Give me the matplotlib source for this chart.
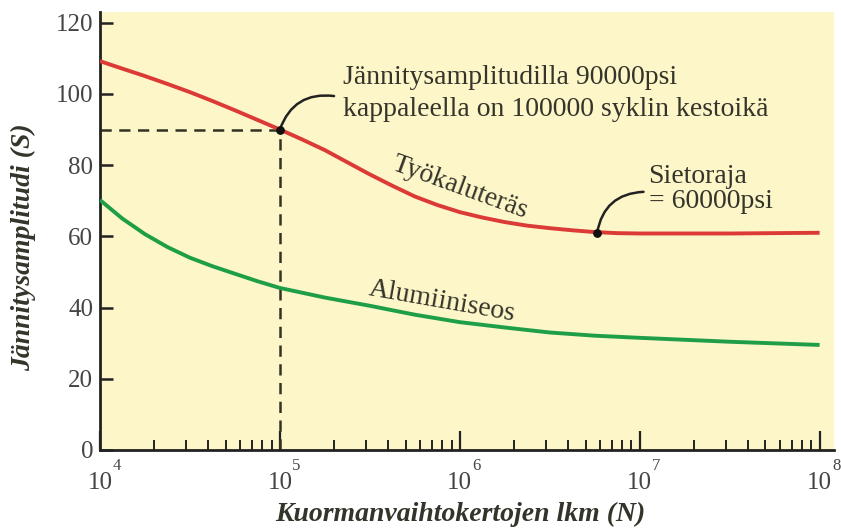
import matplotlib
matplotlib.use('Agg')
import matplotlib.pyplot as plt
from matplotlib.ticker import FixedLocator, LogLocator, NullFormatter, FixedFormatter

# ---- data ----
N_steel = [1e4, 1.33e4, 1.78e4, 2.37e4, 3.16e4, 4.22e4, 5.62e4, 7.5e4,
           1e5, 1.33e5, 1.78e5, 2.37e5, 3.16e5, 4.22e5, 5.62e5, 7.5e5,
           1e6, 1.33e6, 1.78e6, 2.37e6, 3.16e6, 4.22e6, 5.62e6, 7.5e6,
           1e7, 3.16e7, 1e8]
S_steel = [109.2, 107.1, 105.0, 102.8, 100.5, 98.0, 95.4, 92.7,
           90.0, 87.2, 84.2, 80.8, 77.4, 74.2, 71.2, 68.8,
           66.8, 65.3, 64.0, 63.0, 62.3, 61.7, 61.2, 60.9,
           60.8, 60.8, 61.0]

N_alu = [1e4, 1.33e4, 1.78e4, 2.37e4, 3.16e4, 4.22e4, 5.62e4, 7.5e4,
         1e5, 1.78e5, 3.16e5, 5.62e5, 1e6, 1.78e6, 3.16e6, 5.62e6,
         1e7, 3.16e7, 1e8]
S_alu = [70.2, 65.0, 60.6, 57.0, 54.0, 51.6, 49.5, 47.4,
         45.5, 42.8, 40.5, 38.0, 35.9, 34.4, 33.0, 32.1,
         31.5, 30.4, 29.5]

point_N = [1e5, 5.8e6]
point_S = [90, 61]

y_ticks = [0, 20, 40, 60, 80, 100, 120]
x_major = [1e4, 1e5, 1e6, 1e7, 1e8]
x_exponents = ['4', '5', '6', '7', '8']

serif = ['Liberation Serif', 'DejaVu Serif']
txt_col = '#34342a'
red = '#dc3a36'
green = '#1f9e48'
FS = 20

fig = plt.figure(figsize=(8.41, 5.32), dpi=100)
ax = fig.add_axes([100/841, 82/532, 734/841, 438/532])
ax.set_facecolor('#fcf6c8')

ax.plot(N_steel, S_steel, color=red, lw=2.8, solid_capstyle='butt', solid_joinstyle='round', zorder=3)
ax.plot(N_alu, S_alu, color=green, lw=2.8, solid_capstyle='butt', solid_joinstyle='round', zorder=3)

# dashed guides
ax.plot([1e4, point_N[0]], [point_S[0], point_S[0]], ls=(0, (4.5, 3)), color='#333322', lw=1.8, zorder=2)
ax.plot([point_N[0], point_N[0]], [0, point_S[0]], ls=(0, (4.5, 3)), color='#333322', lw=1.8, zorder=2)

ax.scatter(point_N, point_S, s=28, color='#111111', zorder=5)

ax.set_xscale('log')
ax.set_xlim(1e4, 10**8.08)
ax.set_ylim(0, 123)

for s in ['top', 'right']:
    ax.spines[s].set_visible(False)
for s in ['left', 'bottom']:
    ax.spines[s].set_linewidth(2.0)
    ax.spines[s].set_color('#222222')

ax.yaxis.set_major_locator(FixedLocator(y_ticks))
ax.tick_params(axis='y', direction='in', length=9, width=1.8, color='#222222',
               labelsize=18, labelcolor='#444444', pad=5)
for lab in ax.get_yticklabels():
    lab.set_fontfamily(serif)

ax.xaxis.set_major_locator(FixedLocator(x_major))
ax.xaxis.set_major_formatter(FixedFormatter(['10'] * len(x_major)))
ax.xaxis.set_minor_locator(LogLocator(base=10, subs=[2, 3, 4, 5, 6, 7, 8, 9], numticks=20))
ax.xaxis.set_minor_formatter(NullFormatter())
ax.tick_params(axis='x', which='major', direction='in', length=14, width=1.6, color='#222222',
               labelsize=18, labelcolor='#444444', pad=16)
ax.tick_params(axis='x', which='minor', direction='in', length=7, width=1.4, color='#222222')
for lab in ax.get_xticklabels():
    lab.set_fontfamily(serif)

xt = ax.get_xaxis_transform()
for xv, e in zip(x_major, x_exponents):
    ax.annotate(e, xy=(xv, 0), xycoords=xt, xytext=(12, -11.5), textcoords='offset points',
                fontsize=12, color='#444444', family=serif, ha='center', va='center',
                annotation_clip=False)

# axis labels
fig.text(460/841, 1 - 514/532, 'Kuormanvaihtokertojen lkm (N)', family=serif, fontsize=FS,
         style='italic', weight='bold', color=txt_col, ha='center', va='center')
fig.text(23/841, 1 - 247/532, 'Jännitysamplitudi (S)', family=serif, fontsize=FS,
         style='italic', weight='bold', color=txt_col, ha='center', va='center', rotation=90)

# annotations
ax.annotate('', xy=(point_N[0], point_S[0]), xytext=(2.0e5, 99.4),
            arrowprops=dict(arrowstyle='-', connectionstyle='arc3,rad=0.4', lw=1.8, color='#222222',
                            shrinkA=0, shrinkB=0))
ax.text(2.24e5, 100.1, 'Jännitysamplitudilla 90000psi\nkappaleella on 100000 syklin kestoikä',
        family=serif, fontsize=FS, color=txt_col, ha='left', va='center', linespacing=1.4)

ax.annotate('', xy=(point_N[1], point_S[1]), xytext=(1.05e7, 72.5),
            arrowprops=dict(arrowstyle='-', connectionstyle='arc3,rad=0.4', lw=1.8, color='#222222',
                            shrinkA=0, shrinkB=0))
ax.text(1.12e7, 73.3, 'Sietoraja\n= 60000psi', family=serif, fontsize=FS, color=txt_col,
        ha='left', va='center', linespacing=1.0)

ax.text(1.0e6, 73.6, 'Työkaluteräs', family=serif, fontsize=FS, color=txt_col,
        ha='center', va='center', rotation=-20)
ax.text(7.94e5, 41.6, 'Alumiiniseos', family=serif, fontsize=FS, color=txt_col,
        ha='center', va='center', rotation=-10)

fig.savefig('out.png', dpi=100, facecolor='white')
